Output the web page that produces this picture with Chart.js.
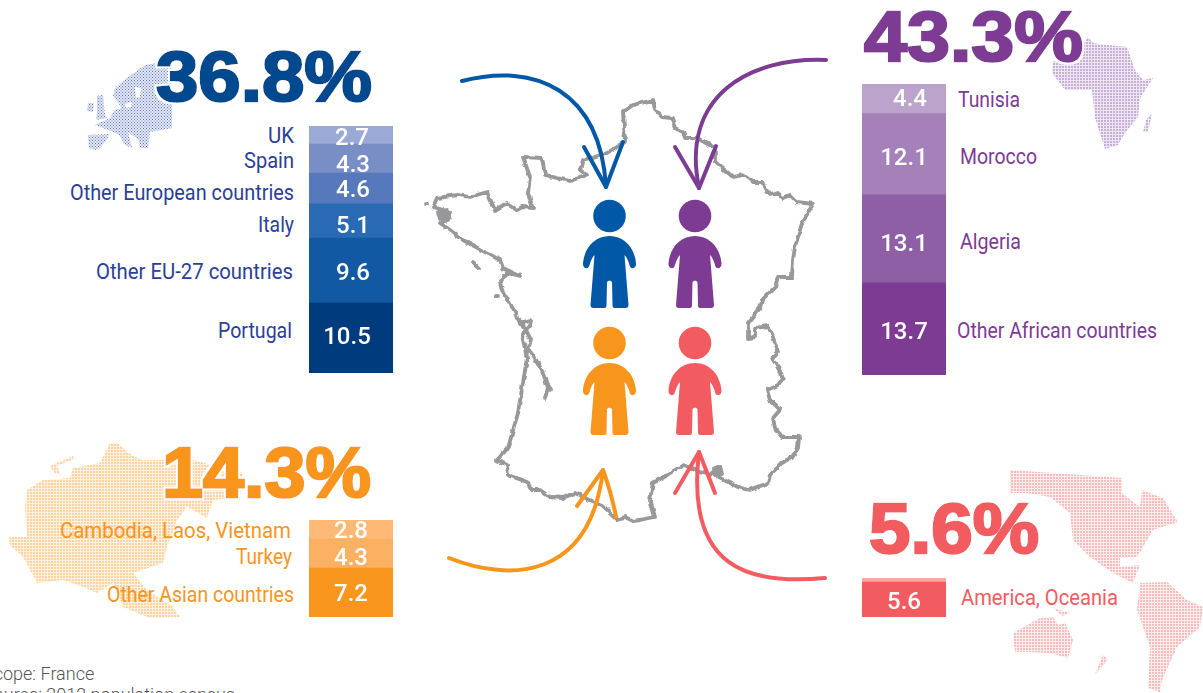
<!DOCTYPE html>
<html>
<head>
<meta charset="utf-8">
<title>Immigrants in France by origin</title>
<script src="https://cdn.jsdelivr.net/npm/chart.js@4"></script>
<style>
  html, body { margin: 0; padding: 0; background: #fff; width: 1203px; height: 693px; overflow: hidden; }
  #art { position: absolute; left: 0; top: 0; }
  canvas { position: absolute; display: block; }
  .cat { font-family: Roboto, sans-serif; font-size: 22px; }
  .big { font-family: "Liberation Sans", Arial, sans-serif; font-weight: 700; font-size: 70px; stroke-width: 2.5px; filter: url(#halo); }
  .foot { font-family: Roboto, sans-serif; font-weight: 300; font-size: 18px; fill: #555; }
</style>
</head>
<body>
<svg id="art" width="1203" height="693" viewBox="0 0 1203 693" xmlns="http://www.w3.org/2000/svg">
  <defs>
    <pattern id="dotEurope" width="3" height="3" patternUnits="userSpaceOnUse">
      <rect width="3" height="3" fill="#e6eaf6"/><rect width="2" height="2" fill="#c3cce8"/><rect x="2" y="2" width="1" height="1" fill="#5e74bb"/>
    </pattern>
    <pattern id="dotAfrica" width="3" height="3" patternUnits="userSpaceOnUse">
      <rect width="3" height="3" fill="#efe6f3"/><rect width="2" height="2" fill="#c9aed7"/>
    </pattern>
    <pattern id="dotAsia" width="3" height="3" patternUnits="userSpaceOnUse">
      <rect width="3" height="3" fill="#fff1e0"/><rect width="2" height="2" fill="#fdd3a1"/>
    </pattern>
    <pattern id="dotAmerica" width="3" height="3" patternUnits="userSpaceOnUse">
      <rect width="3" height="3" fill="#fdecec"/><rect width="2" height="2" fill="#f9bcbc"/>
    </pattern>
    <filter id="halo" x="-5%" y="-10%" width="110%" height="120%">
      <feMorphology in="SourceAlpha" operator="dilate" radius="2" result="fat"/>
      <feFlood flood-color="#fff"/>
      <feComposite in2="fat" operator="in" result="white"/>
      <feMerge><feMergeNode in="white"/><feMergeNode in="SourceGraphic"/></feMerge>
    </filter>
    <filter id="rough" x="-5%" y="-5%" width="110%" height="110%">
      <feTurbulence type="fractalNoise" baseFrequency="0.13" numOctaves="2" seed="4" result="n"/>
      <feDisplacementMap in="SourceGraphic" in2="n" scale="4" xChannelSelector="R" yChannelSelector="G"/>
    </filter>
    <g id="person">
      <circle cx="0" cy="-20" r="16.3"/>
      <path d="M0,0 C-15,0 -25,12 -26.5,27 C-27,33 -21,34 -20,29 C-19,25 -17,21 -15,19 L-19,69 Q-19,72 -16,72 L-5,72 Q-3,72 -3,69 L-2.5,46 Q0,43 2.5,46 L3,69 Q3,72 5,72 L16,72 Q19,72 19,69 L15,19 C17,21 19,25 20,29 C21,34 27,33 26.5,27 C25,12 15,0 0,0 Z"/>
    </g>
  </defs>

  <!-- dotted continents, rough outlines -->
  <g fill="url(#dotEurope)" fill-rule="evenodd">
    <path d="M128,77 L145,65 L172,60 L172,128 L150,132 L148,148 L140,148 L139,140 L128,132 L132,148 L125,145 L119,135 L113,132 L95,125 L110,118 L114,110 L122,108 L113,96 L115,88 Z M135,87 L141,88 L140,97 L136,98 Z M125,104 L132,102 L131,107 L126,108 Z"/>
    <path d="M97,96 L103,95 L105,115 L108,118 L96,120 L97,112 Z"/>
    <path d="M88,103 L94,103 L93,112 L87,111 Z"/>
    <path d="M88,135 L110,134 L105,142 L100,148 L95,150 L89,148 Z"/>
  </g>
  <g fill="url(#dotAfrica)">
    <path d="M1088,37 L1093,43 L1108,45 L1127,47 L1135,70 L1143,80 L1153,78 L1140,98 L1138,117 L1125,133 L1118,145 L1105,149 L1095,118 L1092,90 L1065,90 L1052,73 L1053,62 L1083,45 Z"/>
    <path d="M1152,113 L1148,132 L1143,132 L1146,120 Z"/>
  </g>
  <g fill="url(#dotAsia)">
    <path d="M9,537 L27,537 L25,507 L27,490 L43,480 L70,478 L73,468 L100,463 L110,443 L118,443 L128,453 L142,460 L193,460 L243,473 L240,497 L213,500 L207,518 L187,507 L177,520 L167,547 L163,563 L133,573 L147,590 L173,607 L180,617 L150,618 L123,607 L113,583 L97,593 L83,587 L63,580 L37,583 L23,557 L10,545 Z"/>
    <path d="M50,466 L73,456 L74,459 L57,466 L61,475 L54,473 Z"/>
  </g>
  <g fill="url(#dotAmerica)">
    <path d="M1010,470 L1053,473 L1122,478 L1122,493 L1140,507 L1142,490 L1163,498 L1178,522 L1153,530 L1137,557 L1120,557 L1120,567 L1140,565 L1133,583 L1113,573 L1090,557 L1073,540 L1070,513 L1050,497 L1027,493 L1010,493 Z"/>
    <path d="M1140,583 L1167,582 L1187,600 L1203,607 L1200,627 L1177,647 L1162,680 L1160,692 L1148,688 L1150,647 L1137,610 Z"/>
    <path d="M1013,633 L1040,618 L1053,617 L1058,625 L1065,623 L1073,640 L1068,658 L1050,653 L1027,652 L1015,652 Z"/>
    <path d="M1103,655 L1108,660 L1095,674 Z"/>
    <path d="M1053,608 L1070,613 L1062,616 Z"/>
  </g>

  <!-- France, jagged through the filter -->
  <g filter="url(#rough)" fill="none" stroke="#98989b" stroke-width="3.8" stroke-linejoin="round" stroke-linecap="round">
    <path d="M653,100 L655,110 L662,117 L672,118 L675,128 L683,132 L685,138 L697,138 L715,148 L715,162 L733,177 L743,175 L753,182 L762,182 L770,195 L778,193 L783,198 L790,195 L797,202 L813,204 L802,223 L795,247 L793,260 L792,277 L778,277 L775,287 L762,300 L760,308 L748,323 L748,338 L755,337 L755,328 L768,326 L773,337 L778,352 L772,358 L778,368 L783,378 L778,385 L767,390 L770,400 L780,410 L773,418 L775,428 L782,437 L799,437 L798,448 L792,457 L782,463 L770,475 L768,483 L750,490 L740,488 L728,482 L718,477 L717,467 L710,475 L700,472 L683,465 L667,475 L653,483 L650,500 L655,517 L640,520 L633,521 L625,517 L617,519 L602,505 L590,500 L575,493 L563,498 L550,497 L540,490 L532,490 L527,482 L508,475 L507,465 L497,460 L508,448 L518,413 L527,358 L522,335 L532,322 L530,320 L520,323 L512,307 L502,290 L500,282 L508,273 L520,276 L503,268 L500,260 L485,252 L463,240 L450,230 L440,223 L448,220 L450,212 L433,207 L437,198 L458,195 L470,197 L487,192 L495,210 L507,203 L517,210 L522,207 L533,208 L528,193 L530,177 L523,157 L542,158 L545,175 L570,181 L587,175 L580,170 L583,160 L607,153 L625,142 L623,112 L633,105 Z"/>
    <path d="M530,350 L542,370 L548,388 L545,398"/>
    <path d="M548,388 L550,390"/>
    <path d="M522,322 L531,340 L526,356"/>
    <path d="M426,203 L427,203"/>
    <path d="M473,263 L478,268"/>
    <path d="M496,297 L498,297"/>
    <path d="M438,212 L447,210 L449,218 L440,219 Z" fill="#98989b"/>
    <path d="M714,468 L720,466 L722,474 L715,475 Z" fill="#98989b"/>
  </g>

  <!-- people -->
  <use href="#person" x="609.5" y="236" fill="#0058a6"/>
  <use href="#person" x="695" y="236" fill="#7e3b94"/>
  <use href="#person" x="609.5" y="363" fill="#f8951d"/>
  <use href="#person" x="695" y="363" fill="#f25c60"/>

  <!-- arrows -->
  <g fill="none" stroke-width="4" stroke-linecap="round" stroke-linejoin="round">
    <g stroke="#0058a6"><path d="M462,81 C535,62 600,90 606,187"/><path d="M584,147 L606,187 L623,142"/></g>
    <g stroke="#7e3b94"><path d="M826,60 C750,57 680,95 699,188"/><path d="M675,147 L699,188 L716,146"/></g>
    <g stroke="#f8951d"><path d="M449,558 C510,582 590,580 603,470"/><path d="M577,506 L603,470 Q612,495 616,517"/></g>
    <g stroke="#f25c60"><path d="M825,578 C750,585 685,570 699,452"/><path d="M675,493 L699,452 L715,493"/></g>
  </g>

  <g id="texts"></g>
  <text class="foot" x="-17" y="680">Scope: France</text>
  <text class="foot" x="-17" y="701">Source: 2012 population census</text>
</svg>

<canvas id="barEurope"></canvas>
<canvas id="barAfrica"></canvas>
<canvas id="barAsia"></canvas>
<canvas id="barAmerica"></canvas>

<script>
// bottom segment first
const europeNames = ['Portugal', 'Other EU-27 countries', 'Italy', 'Other European countries', 'Spain', 'UK'];
const europeValues = [10.5, 9.6, 5.1, 4.6, 4.3, 2.7];
const africaNames = ['Other African countries', 'Algeria', 'Morocco', 'Tunisia'];
const africaValues = [13.7, 13.1, 12.1, 4.4];
const asiaNames = ['Other Asian countries', 'Turkey', 'Cambodia, Laos, Vietnam'];
const asiaValues = [7.2, 4.3, 2.8];
// the picture prints 5.6 on the big segment and has a thin unlabelled strip on top
const americaNames = ['America, Oceania', ''];
const americaValues = [5.2, 0.6];
const americaPrinted = ['5.6', ''];

const groups = [
  {
    id: 'barEurope', names: europeNames, values: europeValues, total: '36.8%',
    box: [309, 126, 84, 247], color: '#004a8f', textColor: '#2b3f96',
    colors: ['#003c7d', '#1259a3', '#2a6ab5', '#5679bd', '#7a8ec6', '#9aa9d6'],
    big: [156, 101, 216],
    // x, baseline, width of each name; anchor decides which end x is
    anchor: 'end',
    names_at: [[292, 338, 74], [293, 279, 197], [294, 232, 36], [294, 200, 224], [294, 168, 50], [294, 143, 26]],
    nudge: [[-4, 0], [2, 4], [2, 6], [2, 3], [2, 7], [1, 4]]
  },
  {
    id: 'barAfrica', names: africaNames, values: africaValues, total: '43.3%',
    box: [862, 84, 84, 291], color: '#7e3b94', textColor: '#7e3b94',
    colors: ['#7e3b94', '#8f5fa6', '#a680b8', '#bca3cc'],
    big: [864, 61, 219],
    anchor: 'start',
    names_at: [[957, 338, 200], [960, 249, 61], [960, 164, 77], [958, 107, 62]],
    nudge: [[0, 4], [0, 6], [0, 5], [6, 1]]
  },
  {
    id: 'barAsia', names: asiaNames, values: asiaValues, total: '14.3%',
    box: [309, 520, 84, 97], color: '#f8951d', textColor: '#f8951d',
    colors: ['#f8951d', '#fcb162', '#fdb975'],
    big: [162, 497, 209],
    anchor: 'end',
    names_at: [[294, 602, 187], [292, 564, 56], [291, 538, 231]],
    nudge: [[0, 2], [0, 5], [0, 3]]
  },
  {
    id: 'barAmerica', names: americaNames, values: americaValues, printed: americaPrinted, total: '5.6%',
    box: [862, 578, 84, 39], color: '#f25c60', textColor: '#f25c60',
    colors: ['#f25c60', '#f9a99f'],
    big: [869, 553, 170],
    anchor: 'start',
    names_at: [[961, 605, 157], null],
    nudge: [[0, 3], [0, 0]]
  }
];

const svgNS = 'http://www.w3.org/2000/svg';
const textLayer = document.getElementById('texts');

function addText(cls, content, x, y, width, anchor, color){
  const el = document.createElementNS(svgNS, 'text');
  el.setAttribute('class', cls);
  el.setAttribute('x', x);
  el.setAttribute('y', y);
  el.setAttribute('text-anchor', anchor);
  el.setAttribute('textLength', width);
  el.setAttribute('lengthAdjust', 'spacingAndGlyphs');
  el.setAttribute('fill', color);
  if(cls === 'big') el.setAttribute('stroke', color);
  el.textContent = content;
  textLayer.appendChild(el);
}

// white numbers on the segments, placed from the bars the library laid out
const valueText = {
  id: 'valueText',
  afterDatasetsDraw(chart, args, opts){
    const ctx = chart.ctx;
    ctx.save();
    ctx.fillStyle = '#fff';
    ctx.textAlign = 'center';
    ctx.textBaseline = 'middle';
    ctx.font = '500 24px Roboto, sans-serif';
    chart.data.datasets.forEach((ds, i) => {
      const txt = opts.printed ? opts.printed[i] : ds.data[0].toFixed(1);
      if(!txt) return;
      const bar = chart.getDatasetMeta(i).data[0];
      const mid = (bar.y + bar.base) / 2;
      ctx.fillText(txt, bar.x + opts.nudge[i][0], mid + opts.nudge[i][1]);
    });
    ctx.restore();
  }
};

groups.forEach(g => {
  const canvas = document.getElementById(g.id);
  canvas.style.left = g.box[0] + 'px';
  canvas.style.top = g.box[1] + 'px';
  canvas.width = g.box[2];
  canvas.height = g.box[3];
  canvas.style.width = g.box[2] + 'px';
  canvas.style.height = g.box[3] + 'px';

  const sum = g.values.reduce((a, b) => a + b, 0);

  new Chart(canvas.getContext('2d'), {
    type: 'bar',
    data: {
      labels: [g.total],
      datasets: g.values.map((v, i) => ({
        label: g.names[i],
        data: [v],
        backgroundColor: g.colors[i],
        borderWidth: 0,
        barPercentage: 1,
        categoryPercentage: 1
      }))
    },
    options: {
      responsive: false,
      maintainAspectRatio: false,
      animation: false,
      devicePixelRatio: 1,
      layout: { padding: 0 },
      scales: {
        x: { stacked: true, display: false },
        y: { stacked: true, display: false, min: 0, max: sum }
      },
      plugins: {
        legend: { display: false },
        tooltip: { enabled: false },
        valueText: { printed: g.printed, nudge: g.nudge }
      }
    },
    plugins: [valueText]
  });

  addText('big', g.total, g.big[0], g.big[1], g.big[2], 'start', g.color);
  g.names.forEach((name, i) => {
    if(!name) return;
    const at = g.names_at[i];
    addText('cat', name, at[0], at[1], at[2], g.anchor, g.textColor);
  });
});
</script>
</body>
</html>
